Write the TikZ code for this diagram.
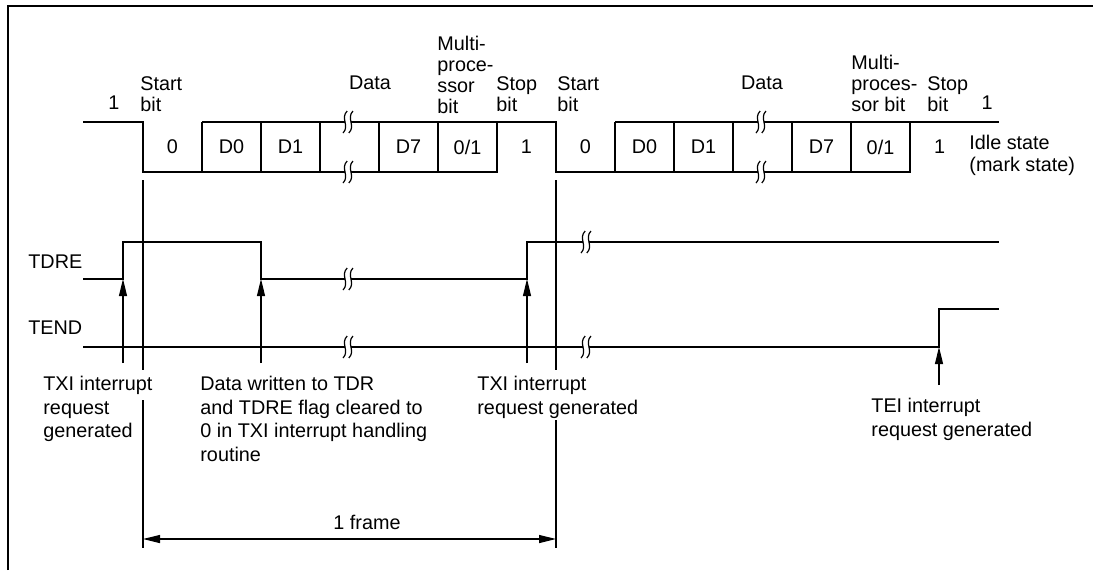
\documentclass[tikz,border=0pt]{standalone}
\usepackage{fontspec}
\setmainfont{Liberation Sans}
\usetikzlibrary{arrows.meta}

\begin{document}
\begin{tikzpicture}[
    x=0.5pt, y=-0.5pt,
    every node/.style={font=\fontsize{9.9pt}{11.75pt}\selectfont, inner sep=0pt},
    sig/.style={line width=0.6pt},
    lbl/.style={anchor=north west, align=left},
    toplbl/.style={lbl, font=\fontsize{9.9pt}{10.5pt}\selectfont},
    irq/.style={-{Triangle[length=8.5pt,width=4pt]}, line width=0.6pt},
    brk/.pic={
        \fill[white] (-3,-2) rectangle (3,2);
        \draw[line width=0.6pt] (-0.8,-11) .. controls (-8,-4) and (2,4) .. (-5,11);
        \draw[line width=0.6pt] (5,-11) .. controls (-2,-4) and (8,4) .. (0.8,11);
    }
]
    \useasboundingbox (0,0) rectangle (1093,570);
    \draw[sig] (8,570) -- (8,6) -- (1093,6);

    % serial data
    \draw[sig] (83,122) -- (143,122) -- (143,172) -- (497,172) -- (497,122);
    \draw[sig] (202,122) -- (556,122) -- (556,172) -- (910,172) -- (910,122);
    \draw[sig] (615,122) -- (999,122);
    \foreach \f/\o in {a/0, b/413} {
        \foreach \x in {202,261,320,379,438}
            \draw[sig] (\x+\o,122) -- (\x+\o,172);
        \node (\f-st) at (172.5+\o,147) {0};
        \node (\f-d0) at (231.5+\o,147) {D0};
        \node (\f-d1) at (290.5+\o,147) {D1};
        \node (\f-d7) at (408.5+\o,147) {D7};
        \node (\f-mp) at (467.5+\o,147) {0/1};
        \node (\f-sp) at (526.5+\o,147) {1};
        \pic at (348+\o,122) {brk};
        \pic at (348+\o,172) {brk};
    }

    % bit labels
    \node (idle1) at (114,103) {1};
    \node[toplbl] (startA) at (140,76) {Start\\bit};
    \node (dataA) at (370,83) {Data};
    \node[toplbl] (mpA) at (437,36) {Multi-\\proce-\\ssor\\bit};
    \node[toplbl] (stopA) at (496,76) {Stop\\bit};
    \node[toplbl] (startB) at (557,76) {Start\\bit};
    \node (dataB) at (762,83) {Data};
    \node[toplbl] (mpB) at (851,55) {Multi-\\proces-\\sor bit};
    \node[toplbl] (stopB) at (927,76) {Stop\\bit};
    \node (idle2) at (987,103) {1};
    \node[lbl, font=\fontsize{9.9pt}{11pt}\selectfont] (idle) at (969,135) {Idle state\\(mark state)};

    % flags
    \node[anchor=west] (tdre) at (28,262) {TDRE};
    \node[anchor=west] (tend) at (28,328) {TEND};
    \draw[sig] (83,279) -- (123,279) -- (123,242) -- (261,242) -- (261,279)
        -- (527,279) -- (527,242) -- (999,242);
    \draw[sig] (83,347) -- (939,347) -- (939,309) -- (999,309);
    \pic at (348,279) {brk};
    \pic at (586,242) {brk};
    \pic at (348,347) {brk};
    \pic at (586,347) {brk};

    % interrupt requests
    \foreach \n/\x/\y/\yb in {1/123/279/363, 2/261/279/363, 3/527/279/363, 4/939/347/385} {
        \coordinate (irqB\n) at (\x,\yb);
        \coordinate (irqT\n) at (\x,\y);
        \draw[irq] (irqB\n) -- (irqT\n);
    }
    \node[lbl] (txi1) at (43,376) {TXI interrupt\\request\\generated};
    \node[lbl] (tdr) at (200,376) {Data written to TDR\\and TDRE flag cleared to\\0 in TXI interrupt handling\\routine};
    \node[lbl] (txi2) at (477,376) {TXI interrupt\\request generated};
    \node[lbl] (tei) at (871,398) {TEI interrupt\\request generated};

    % one frame
    \draw[sig] (143,180) -- (143,370);
    \draw[sig] (143,400) -- (143,548);
    \draw[sig] (556,180) -- (556,370);
    \draw[sig] (556,420) -- (556,548);
    \coordinate (frmA) at (143,539);
    \coordinate (frmB) at (556,539);
    \draw[sig, {Triangle[length=8.5pt,width=4pt]}-{Triangle[length=8.5pt,width=4pt]}] (frmA) -- (frmB);
    \node (frm) at (367,522) {1 frame};
\end{tikzpicture}
\end{document}
